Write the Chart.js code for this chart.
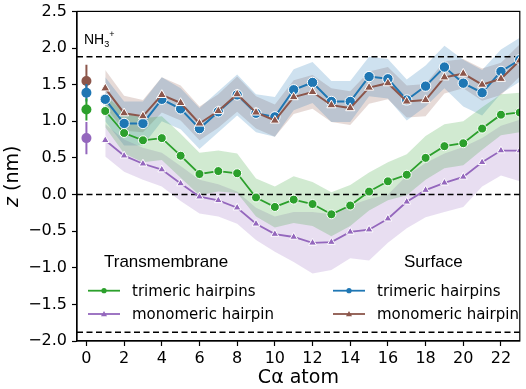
<!DOCTYPE html>
<html>
<head>
<meta charset="utf-8">
<script src="https://cdn.jsdelivr.net/npm/chart.js@4.4.1/dist/chart.umd.min.js"></script>
<style>
html, body { margin: 0; padding: 0; background: #fff; }
#wrap { width: 526px; height: 389px; }
</style>
</head>
<body>
<div id="wrap"><canvas id="c" width="526" height="389"></canvas></div>
<script>
// C-alpha atom index along the hairpin
const atoms = [1, 2, 3, 4, 5, 6, 7, 8, 9, 10, 11, 12, 13, 14, 15, 16, 17, 18, 19, 20, 21, 22, 23];

// Transmembrane, trimeric hairpins (green)
const tmTri = [1.14, 0.84, 0.74, 0.77, 0.53, 0.28, 0.32, 0.29, -0.04, -0.17, -0.07, -0.13, -0.27, -0.15, 0.04, 0.18, 0.27, 0.50, 0.66, 0.70, 0.90, 1.09, 1.12];
const tmTriSd = [0.22, 0.28, 0.30, 0.30, 0.30, 0.29, 0.28, 0.27, 0.26, 0.28, 0.32, 0.30, 0.30, 0.28, 0.26, 0.26, 0.28, 0.30, 0.30, 0.30, 0.29, 0.28, 0.27];

// Transmembrane, monomeric hairpin (purple)
const tmMono = [0.74, 0.53, 0.42, 0.34, 0.15, -0.03, -0.08, -0.18, -0.40, -0.54, -0.58, -0.66, -0.65, -0.51, -0.48, -0.33, -0.10, 0.06, 0.16, 0.24, 0.44, 0.60, 0.60];
const tmMonoSd = [0.22, 0.22, 0.22, 0.23, 0.24, 0.23, 0.22, 0.22, 0.22, 0.24, 0.34, 0.42, 0.38, 0.36, 0.42, 0.33, 0.36, 0.37, 0.40, 0.41, 0.33, 0.34, 0.42];

// Surface, trimeric hairpins (blue)
const sfTri = [1.30, 0.97, 0.97, 1.30, 1.17, 0.90, 1.13, 1.36, 1.11, 1.06, 1.43, 1.53, 1.27, 1.27, 1.61, 1.58, 1.29, 1.48, 1.74, 1.52, 1.39, 1.68, 1.84];
const sfTriSd = [0.30, 0.30, 0.30, 0.30, 0.28, 0.28, 0.28, 0.28, 0.26, 0.27, 0.28, 0.28, 0.28, 0.28, 0.27, 0.27, 0.28, 0.28, 0.29, 0.32, 0.31, 0.30, 0.30];

// Surface, monomeric hairpin (brown)
const sfMono = [1.45, 1.11, 1.07, 1.36, 1.25, 0.97, 1.14, 1.37, 1.12, 1.01, 1.33, 1.40, 1.22, 1.18, 1.46, 1.52, 1.27, 1.29, 1.60, 1.65, 1.50, 1.58, 1.83];
const sfMonoSd = [0.25, 0.24, 0.22, 0.24, 0.24, 0.23, 0.23, 0.24, 0.22, 0.22, 0.23, 0.23, 0.23, 0.23, 0.22, 0.22, 0.22, 0.22, 0.22, 0.20, 0.22, 0.22, 0.22];

// NH3+ position at atom 0: green, purple, blue, brown
const nhMean = [1.16, 0.77, 1.39, 1.55];
const nhErr = [0.15, 0.22, 0.12, 0.22];

// dashed reference lines (membrane centre and headgroup planes)
const refLines = [1.88, 0.0, -1.88];

const xTicks = [0, 2, 4, 6, 8, 10, 12, 14, 16, 18, 20, 22];
const yTicks = [-2.0, -1.5, -1.0, -0.5, 0.0, 0.5, 1.0, 1.5, 2.0, 2.5];

const colors = {
    green: '#2ca02c',
    purple: '#9467bd',
    blue: '#1f77b4',
    brown: '#8c564b'
};
const bands = {
    green: 'rgba(44, 160, 44, 0.22)',
    purple: 'rgba(148, 103, 189, 0.22)',
    blue: 'rgba(31, 119, 180, 0.22)',
    brown: 'rgba(140, 86, 75, 0.22)'
};

function pts(vals) {
    return atoms.map((a, i) => ({ x: a, y: vals[i] }));
}
function shifted(vals, sd, sign) {
    return atoms.map((a, i) => ({ x: a, y: vals[i] + sign * sd[i] }));
}

function bandSets(vals, sd, fillColor) {
    return [
        { data: shifted(vals, sd, 1), borderWidth: 0, pointRadius: 0, backgroundColor: fillColor, fill: '+1', order: 10 },
        { data: shifted(vals, sd, -1), borderWidth: 0, pointRadius: 0, fill: false, order: 10 }
    ];
}

function lineSet(vals, color, style, radius, width, order) {
    return {
        data: pts(vals),
        borderColor: color,
        backgroundColor: color,
        borderWidth: width,
        pointStyle: style,
        pointRadius: radius,
        pointBackgroundColor: color,
        pointBorderColor: '#fff',
        pointBorderWidth: 1,
        fill: false,
        clip: 0,
        order: order
    };
}

const datasets = [];
datasets.push(...bandSets(tmTri, tmTriSd, bands.green));
datasets.push(...bandSets(tmMono, tmMonoSd, bands.purple));
datasets.push(...bandSets(sfTri, sfTriSd, bands.blue));
datasets.push(...bandSets(sfMono, sfMonoSd, bands.brown));

refLines.forEach(v => {
    datasets.push({
        data: [{ x: -0.5, y: v }, { x: 23, y: v }],
        borderColor: '#000',
        borderWidth: 1.6,
        borderDash: [6, 3.5],
        pointRadius: 0,
        fill: false,
        order: 6
    });
});

datasets.push(lineSet(tmTri, colors.green, 'circle', 4.5, 1.8, 4));
datasets.push(lineSet(tmMono, colors.purple, 'triangle', 4.5, 1.8, 3));
datasets.push(lineSet(sfTri, colors.blue, 'circle', 5.2, 2, 2));
datasets.push(lineSet(sfMono, colors.brown, 'triangle', 5.2, 2, 1));

// error bars at atom 0
const nhColors = [colors.green, colors.purple, colors.blue, colors.brown];
const nhOrder = [0, 1, 0, 0];
nhMean.forEach((m, i) => {
    datasets.push({
        data: [{ x: 0, y: m - nhErr[i] }, { x: 0, y: m + nhErr[i] }],
        borderColor: nhColors[i],
        borderWidth: 2,
        pointRadius: 0,
        fill: false,
        order: nhOrder[i]
    });
    datasets.push({
        data: [{ x: 0, y: m }],
        showLine: false,
        pointRadius: 5,
        pointBackgroundColor: nhColors[i],
        pointBorderWidth: 0,
        order: 0
    });
});

const legendGroups = [
    { title: 'Transmembrane', tx: 104, sx: 88, lx: 132, items: [
        { label: 'trimeric hairpins', color: colors.green, style: 'circle' },
        { label: 'monomeric hairpin', color: colors.purple, style: 'triangle' }
    ] },
    { title: 'Surface', tx: 404, sx: 333, lx: 377, items: [
        { label: 'trimeric hairpins', color: colors.blue, style: 'circle' },
        { label: 'monomeric hairpin', color: colors.brown, style: 'triangle' }
    ] }
];

const decor = {
    id: 'decor',
    afterDraw(chart) {
        const { ctx, chartArea: a } = chart;
        ctx.save();

        // full frame
        ctx.strokeStyle = '#000';
        ctx.lineWidth = 1.2;
        ctx.strokeRect(a.left, a.top, a.right - a.left, a.bottom - a.top);

        // y axis title: italic z + (nm)
        ctx.translate(13, (a.top + a.bottom) / 2);
        ctx.rotate(-Math.PI / 2);
        ctx.fillStyle = '#000';
        ctx.textBaseline = 'middle';
        ctx.font = 'italic 19px "DejaVu Sans"';
        const wz = ctx.measureText('z').width;
        ctx.font = '19px "DejaVu Sans"';
        const wr = ctx.measureText(' (nm)').width;
        const sx = -(wz + wr) / 2;
        ctx.textAlign = 'left';
        ctx.font = 'italic 19px "DejaVu Sans"';
        ctx.fillText('z', sx, 0);
        ctx.font = '19px "DejaVu Sans"';
        ctx.fillText(' (nm)', sx + wz, 0);
        ctx.setTransform(1, 0, 0, 1, 0, 0);

        // NH3+ label
        ctx.textBaseline = 'alphabetic';
        ctx.font = '14px "Liberation Sans"';
        ctx.fillText('NH', 84, 43.5);
        const wnh = ctx.measureText('NH').width;
        ctx.font = '9px "Liberation Sans"';
        ctx.fillText('3', 84 + wnh, 46.5);
        ctx.fillText('+', 84 + wnh + 5, 37);

        // legends
        legendGroups.forEach(g => {
            ctx.font = '17px "Liberation Sans"';
            ctx.fillStyle = '#000';
            ctx.fillText(g.title, g.tx, 266.5);
            g.items.forEach((it, k) => {
                const cy = 290.7 + k * 23.3;
                ctx.strokeStyle = it.color;
                ctx.lineWidth = 1.8;
                ctx.beginPath();
                ctx.moveTo(g.sx, cy);
                ctx.lineTo(g.sx + 32, cy);
                ctx.stroke();
                ctx.fillStyle = it.color;
                ctx.beginPath();
                const mx = g.sx + 16;
                if (it.style === 'circle') {
                    ctx.arc(mx, cy, 2.6, 0, Math.PI * 2);
                } else {
                    ctx.moveTo(mx, cy - 3);
                    ctx.lineTo(mx + 3, cy + 2.2);
                    ctx.lineTo(mx - 3, cy + 2.2);
                    ctx.closePath();
                }
                ctx.fill();
                ctx.fillStyle = '#000';
                ctx.font = '15px "DejaVu Sans"';
                ctx.fillText(it.label, g.lx, cy + 5.3);
            });
        });
        ctx.restore();
    }
};

new Chart(document.getElementById('c').getContext('2d'), {
    type: 'line',
    data: { datasets: datasets },
    options: {
        responsive: false,
        animation: false,
        devicePixelRatio: 1,
        layout: { padding: { left: 0, right: 3, top: 9, bottom: 0 } },
        plugins: {
            legend: { display: false },
            tooltip: { enabled: false }
        },
        scales: {
            x: {
                type: 'linear',
                min: -0.5,
                max: 23,
                afterBuildTicks: s => { s.ticks = xTicks.map(v => ({ value: v })); },
                afterFit: s => { s.height = 48; },
                grid: { drawOnChartArea: false, drawTicks: true, tickLength: 5, tickColor: '#000', tickWidth: 1.2 },
                border: { display: true, color: '#000', width: 1.2 },
                ticks: {
                    color: '#000',
                    padding: 3,
                    maxRotation: 0,
                    font: { family: 'DejaVu Sans', size: 16 },
                    callback: v => String(v)
                },
                title: {
                    display: true,
                    text: 'Cα atom',
                    color: '#000',
                    font: { family: 'DejaVu Sans', size: 19 },
                    padding: { top: 0, bottom: 0 }
                }
            },
            y: {
                min: -2,
                max: 2.5,
                afterBuildTicks: s => { s.ticks = yTicks.map(v => ({ value: v })); },
                afterFit: s => { s.width = 77; },
                grid: { drawOnChartArea: false, drawTicks: true, tickLength: 5, tickColor: '#000', tickWidth: 1.2 },
                border: { display: true, color: '#000', width: 1.2 },
                ticks: {
                    color: '#000',
                    padding: 5,
                    font: { family: 'DejaVu Sans', size: 16, lineHeight: 0.8 },
                    callback: v => (v < 0 ? '\u2212' : '') + Math.abs(v).toFixed(1)
                }
            }
        }
    },
    plugins: [decor]
});
</script>
</body>
</html>
